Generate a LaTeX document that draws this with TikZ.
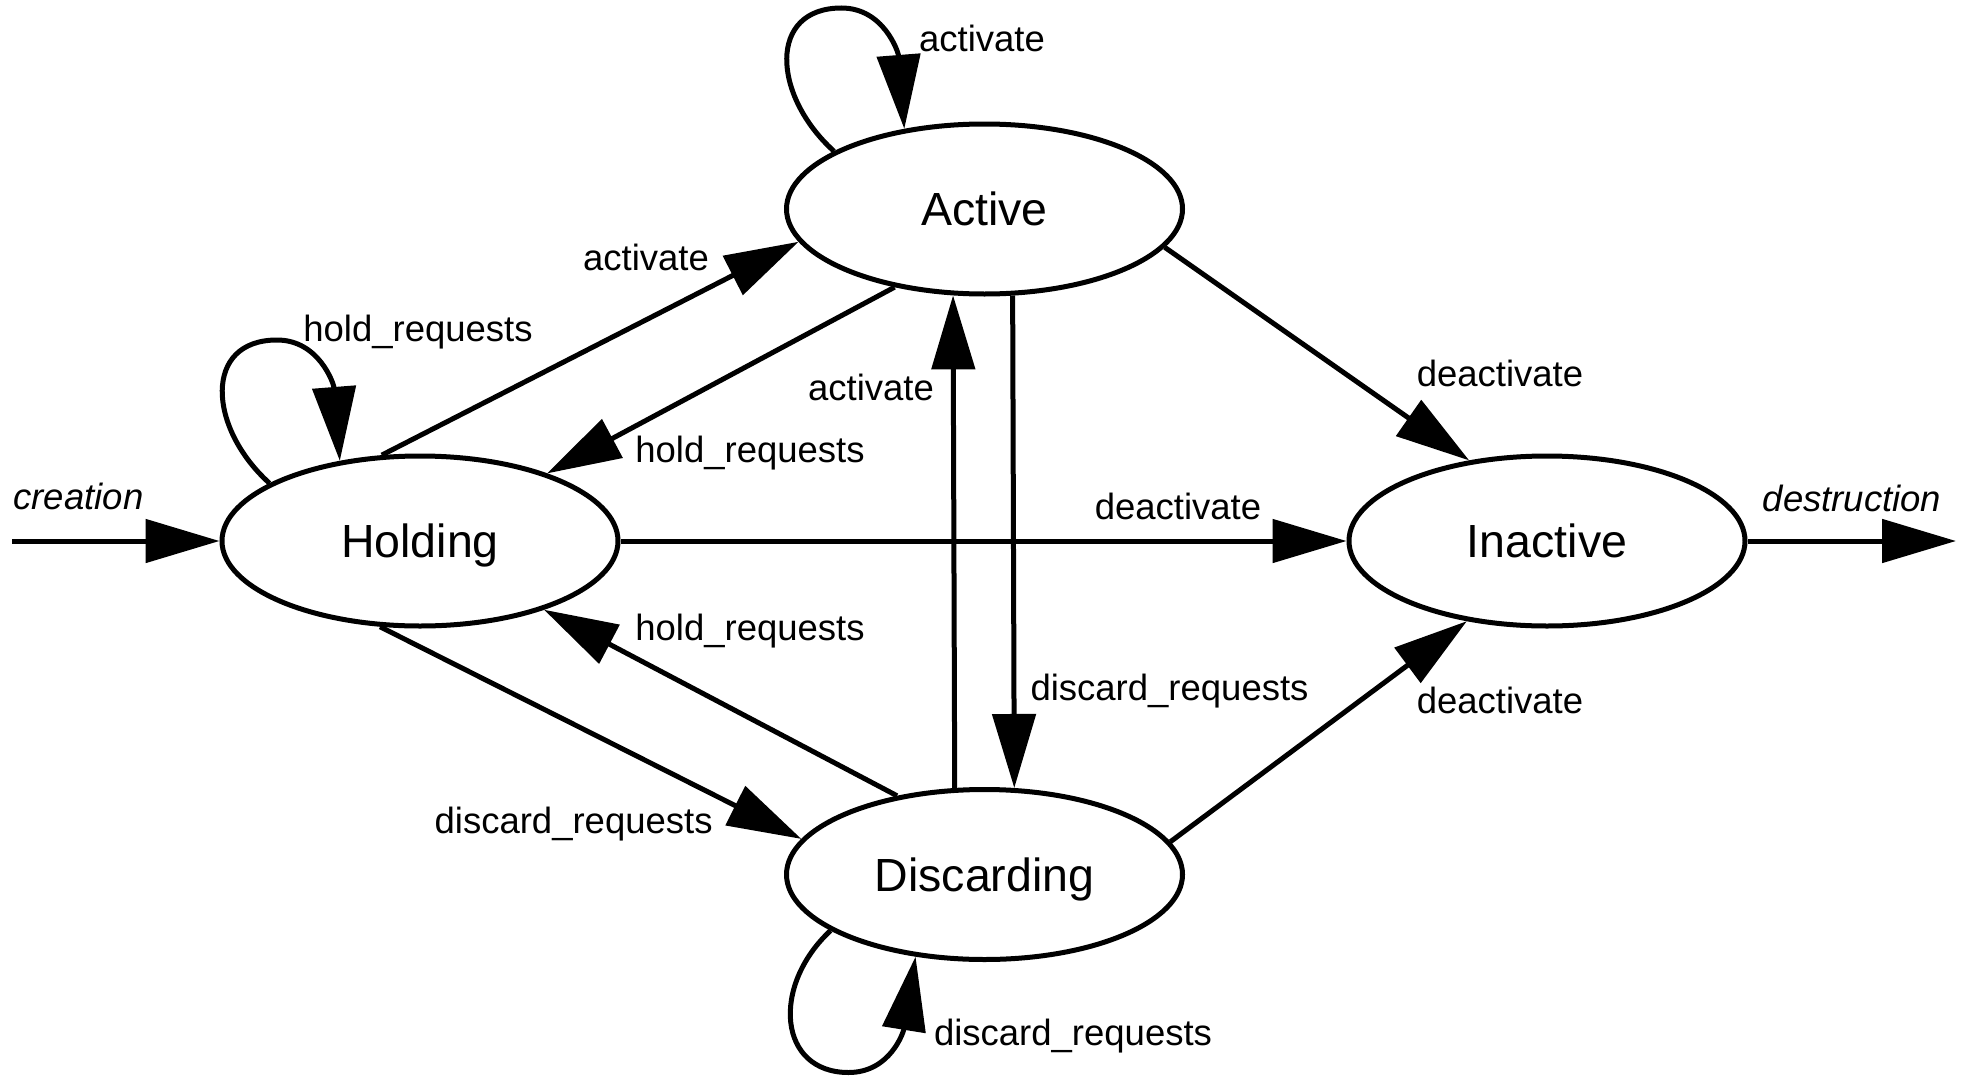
\documentclass[tikz,border=0pt]{standalone}
\usepackage{fontspec}
\setmainfont{Liberation Sans}
\usetikzlibrary{arrows.meta,shapes.geometric,calc}
\begin{document}
\begin{tikzpicture}[x=1pt,y=-1pt,
  state/.style={draw,ellipse,line width=5pt,minimum width=396pt,minimum height=170pt,inner sep=0pt,text height=33pt,text depth=0pt,font=\fontsize{46.5}{56}\selectfont},
  lbl/.style={anchor=base,inner sep=0pt,font=\fontsize{36.5}{44}\selectfont},
  itlbl/.style={anchor=base,inner sep=0pt,font=\fontsize{36.5}{44}\selectfont\itshape},
  arr/.style={line width=5pt,-{Triangle[length=74pt,width=43pt]}}]
\useasboundingbox (0,0) rectangle (1963,1076);
\node[state] (Active) at (984.5,209) {Active};
\node[state] (Holding) at (420,541) {Holding};
\node[state] (Inactive) at (1547,541) {Inactive};
\node[state] (Discarding) at (984.5,874.5) {Discarding};
\coordinate (cstart) at (12,541);
\coordinate (dend) at (1956,541);
% straight transitions
\draw[arr] (cstart) -- (Holding.west);
\draw[arr] (Inactive.east) -- (dend);
\draw[arr] (Holding.114.3) -- (Active.190.9);
\draw[arr] (Active.221.5) -- (Holding.28.3);
\draw[arr] (Holding.east) -- (Inactive.west);
\draw[arr] (Holding.245) -- (Discarding.169.6);
\draw[arr] (Discarding.138.9) -- (Holding.331);
\draw[arr] (Discarding.109.3) -- (Active.250.7);
\draw[arr] (Active.288.4) -- (Discarding.71.6);
\draw[arr] (Active.348.1) -- (Inactive.134.8);
\draw[arr] (Discarding.10.4) -- (Inactive.225.2);
% self loops
\draw[arr] (Active.159.5) .. controls +(-62,-56) and +(-74,0) .. ($(Active)+(-143,-201)$) .. controls +(42,0) and +(-6,-77) .. (Active.135);
\draw[arr] (Holding.159.5) .. controls +(-62,-56) and +(-74,0) .. ($(Holding)+(-143,-201)$) .. controls +(42,0) and +(-6,-77) .. (Holding.135);
\draw[arr] (Discarding.200.5) .. controls +(-60,56) and +(-70,0) .. ($(Discarding)+(-136,198)$) .. controls +(42,0) and +(-12,75) .. (Discarding.230);
% labels
\node[lbl] (lActLoop) at (982,51) {activate};
\node[lbl] (lHoldLoop) at (418,341) {hold\_requests};
\node[itlbl] (lCreation) at (78.5,509) {creation};
\node[itlbl] (lDestruction) at (1852,511) {destruction};
\node[lbl] (lHA) at (646,270) {activate};
\node[lbl] (lAH) at (750,462) {hold\_requests};
\node[lbl] (lDA) at (871,400) {activate};
\node[lbl] (lDH) at (750,640) {hold\_requests};
\node[lbl] (lHD) at (573.6,833) {discard\_requests};
\node[lbl] (lHI) at (1178,519) {deactivate};
\node[lbl] (lAI) at (1500,386) {deactivate};
\node[lbl] (lAD) at (1169.5,700) {discard\_requests};
\node[lbl] (lDI) at (1500,713) {deactivate};
\node[lbl] (lDLoop) at (1073,1045) {discard\_requests};
\end{tikzpicture}
\end{document}
